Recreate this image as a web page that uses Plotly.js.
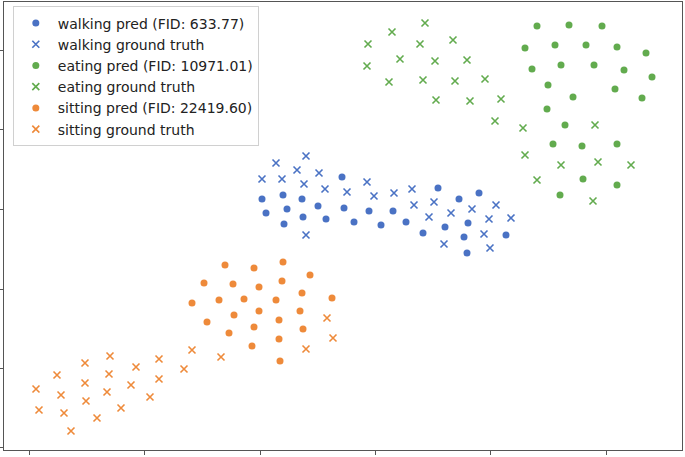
<!DOCTYPE html>
<html>
<head>
<meta charset="utf-8">
<script src="https://cdn.plot.ly/plotly-3.0.1.min.js"></script>
<style>html,body{margin:0;padding:0;background:#fff;}#chart{width:685px;height:457px;}</style>
</head>
<body>
<div id="chart"></div>
<script>
// Embedding coordinates (arbitrary units)
const walkPredX = [262,283,302,342,266,287,318,303,284,326,344,354,369,393,381,406,438,459,479,423,445,468,464,506,467];
const walkPredY = [251,255,251,273,237,241,244,233,226,231,242,228,239,239,225,228,262,251,257,217,223,227,213,215,197];
const walkTrueX = [276,306,262,282,297,319,304,325,347,367,374,394,412,414,434,451,472,496,429,489,511,484,444,490,306];
const walkTrueY = [287,294,271,271,280,277,266,261,258,268,254,257,261,245,248,237,241,245,233,231,232,216,206,202,215];
const eatPredX = [537,569,602,525,555,586,617,646,532,561,594,624,652,548,615,573,642,547,565,553,582,617,583,617,560];
const eatPredY = [424,425,424,402,405,405,403,397,381,385,385,380,373,365,361,353,352,341,325,306,304,306,271,265,255];
const eatTrueX = [368,392,425,420,453,367,400,435,467,389,423,455,485,436,470,501,495,523,595,525,561,598,631,537,593];
const eatTrueY = [406,418,427,406,410,384,391,389,390,368,370,369,371,350,349,351,329,322,325,295,285,288,285,270,249];
const sitPredX = [225,254,283,310,204,233,259,282,302,332,192,219,244,276,259,300,207,234,279,254,303,229,279,252,280];
const sitPredY = [185,182,188,175,167,166,163,169,157,152,147,150,151,150,139,139,128,135,130,123,121,117,111,104,89];
const sitTrueX = [327,333,306,192,221,184,159,136,110,85,57,36,61,85,109,159,131,107,86,39,64,97,121,150,71];
const sitTrueY = [132,112,101,100,93,81,91,83,94,87,75,61,55,67,76,71,65,58,49,40,37,32,42,53,19];

const labels = ["walking pred (FID: 633.77)","walking ground truth","eating pred (FID: 10971.01)","eating ground truth","sitting pred (FID: 22419.60)","sitting ground truth"];
const xTicks = [29,144.5,260,375,490,606];
const yTicks = [3,82,161,241,321,400];

const cBlue = "#4a72c4", cGreen = "#62ab4e", cOrange = "#ee8a3a";

function dots(x,y,c,name){return {x:x,y:y,name:name,type:"scatter",mode:"markers",marker:{symbol:"circle",size:7,color:c}};}
function crosses(x,y,c,name){return {x:x,y:y,name:name,type:"scatter",mode:"markers",marker:{symbol:"x-thin",size:7,color:c,line:{color:c,width:1.6}}};}

const data = [
  dots(walkPredX,walkPredY,cBlue,labels[0]),
  crosses(walkTrueX,walkTrueY,cBlue,labels[1]),
  dots(eatPredX,eatPredY,cGreen,labels[2]),
  crosses(eatTrueX,eatTrueY,cGreen,labels[3]),
  dots(sitPredX,sitPredY,cOrange,labels[4]),
  crosses(sitTrueX,sitTrueY,cOrange,labels[5])
];

const axisCommon = {showgrid:false,zeroline:false,showline:true,mirror:true,linecolor:"#555",linewidth:1,
  ticks:"outside",ticklen:4,tickwidth:1,tickcolor:"#555",showticklabels:false,tickmode:"array"};

const layout = {
  width:685,height:457,
  margin:{l:4,r:3,t:2,b:7},
  paper_bgcolor:"#fff",plot_bgcolor:"#fff",
  font:{family:"DejaVu Sans",size:14,color:"#222"},
  xaxis:Object.assign({},axisCommon,{range:[4,682],tickvals:xTicks}),
  yaxis:Object.assign({},axisCommon,{range:[0,448],tickvals:yTicks}),
  showlegend:true,
  legend:{x:0.013,y:0.99,xanchor:"left",yanchor:"top",bgcolor:"rgba(255,255,255,0.85)",itemwidth:34,
    bordercolor:"#d0d0d0",borderwidth:1,font:{family:"DejaVu Sans",size:14,color:"#222"},tracegroupgap:0}
};

Plotly.newPlot("chart",data,layout,{staticPlot:true,displayModeBar:false});
</script>
</body>
</html>
